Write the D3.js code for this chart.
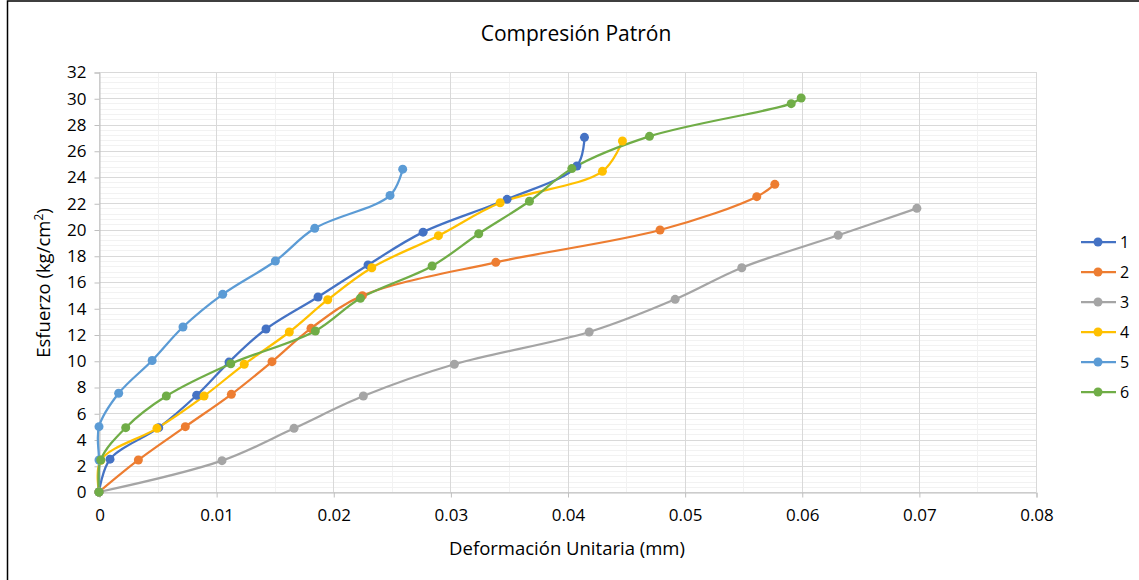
<!DOCTYPE html>
<html>
<head>
<meta charset="utf-8">
<script src="https://cdnjs.cloudflare.com/ajax/libs/d3/7.8.5/d3.min.js"></script>
<style>
  html, body { margin: 0; padding: 0; background: #fff; }
  svg { display: block; font-family: "Open Sans", "Noto Sans", sans-serif; }
</style>
</head>
<body>
<svg id="chart" width="1139" height="580"></svg>
<script>
// Ensayo de compresión: deformación unitaria (x) vs esfuerzo kg/cm² (y), seis probetas
const seriesNames = ["1", "2", "3", "4", "5", "6"];
const seriesColors = ["#4472C4", "#ED7D31", "#A5A5A5", "#FFC000", "#5B9BD5", "#70AD47"];

const strain1 = [0, 0.00094, 0.0051, 0.00834, 0.0111, 0.01426, 0.0187, 0.02297, 0.02767, 0.03484, 0.0408, 0.04145];
const stress1 = [0, 2.5, 4.9, 7.37, 9.9, 12.42, 14.86, 17.3, 19.8, 22.3, 24.84, 27.02];

const strain2 = [0, 0.00336, 0.00737, 0.0113, 0.01477, 0.0181, 0.02249, 0.03388, 0.0479, 0.05616, 0.0577];
const stress2 = [0, 2.44, 4.98, 7.44, 9.93, 12.47, 14.96, 17.5, 19.96, 22.5, 23.44];

const strain3 = [0, 0.0105, 0.01665, 0.02257, 0.03034, 0.04185, 0.04919, 0.05488, 0.06311, 0.06983];
const stress3 = [0, 2.39, 4.85, 7.31, 9.73, 12.19, 14.68, 17.09, 19.56, 21.61];

const strain4 = [0, 0.00015, 0.00495, 0.00897, 0.0124, 0.01625, 0.01953, 0.02329, 0.02898, 0.03425, 0.04298, 0.04469];
const stress4 = [0, 2.42, 4.85, 7.31, 9.73, 12.19, 14.65, 17.09, 19.53, 22.04, 24.43, 26.74];

const strain5 = [0, 0, 0, 0.00168, 0.00454, 0.00717, 0.01056, 0.01506, 0.01842, 0.02485, 0.02593];
const stress5 = [0, 2.44, 4.98, 7.52, 10.02, 12.57, 15.06, 17.6, 20.09, 22.6, 24.6];

const strain6 = [0, 0.00015, 0.00228, 0.00575, 0.01125, 0.01847, 0.02232, 0.02844, 0.03242, 0.03675, 0.04037, 0.047, 0.0591, 0.05995];
const stress6 = [0, 2.44, 4.9, 7.31, 9.77, 12.27, 14.76, 17.22, 19.68, 22.15, 24.64, 27.1, 29.59, 30.02];

const xTicks = [0, 0.01, 0.02, 0.03, 0.04, 0.05, 0.06, 0.07, 0.08];
const yTicks = [0, 2, 4, 6, 8, 10, 12, 14, 16, 18, 20, 22, 24, 26, 28, 30, 32];

const strains = [strain1, strain2, strain3, strain4, strain5, strain6];
const stresses = [stress1, stress2, stress3, stress4, stress5, stress6];
const series = seriesNames.map((name, i) => ({
  name,
  color: seriesColors[i],
  points: strains[i].map((x, j) => [x, stresses[i][j]])
}));

const svg = d3.select("#chart");
const W = 1139, H = 580;

svg.append("rect").attr("width", W).attr("height", H).attr("fill", "#fff");
// chart frame (top and left edges visible)
svg.append("rect")
  .attr("x", 7.5).attr("y", 1)
  .attr("width", W + 20).attr("height", H + 20)
  .attr("fill", "none").attr("stroke", "#000").attr("stroke-width", 1.5);

const plot = { left: 99, right: 1036, top: 72, bottom: 492 };
const x = d3.scaleLinear().domain([0, 0.08]).range([plot.left, plot.right]);
const y = d3.scaleLinear().domain([0, 32]).range([plot.bottom, plot.top]);

const g = svg.append("g");

// minor gridlines
const xMinor = d3.range(0, 0.0801, 0.005).filter(v => Math.abs(v / 0.01 - Math.round(v / 0.01)) > 1e-6);
const yMinor = d3.range(0, 32.001, 0.4).filter(v => Math.abs(v / 2 - Math.round(v / 2)) > 1e-6);
g.selectAll(".ymin").data(yMinor).enter().append("line")
  .attr("x1", plot.left).attr("x2", plot.right)
  .attr("y1", d => Math.round(y(d)) + 0.5).attr("y2", d => Math.round(y(d)) + 0.5)
  .attr("stroke", "#f2f2f2").attr("stroke-width", 1);
g.selectAll(".xmin").data(xMinor).enter().append("line")
  .attr("y1", plot.top).attr("y2", plot.bottom)
  .attr("x1", d => Math.round(x(d)) + 0.5).attr("x2", d => Math.round(x(d)) + 0.5)
  .attr("stroke", "#f2f2f2").attr("stroke-width", 1);

// major gridlines
g.selectAll(".ymaj").data(yTicks).enter().append("line")
  .attr("x1", plot.left).attr("x2", plot.right)
  .attr("y1", d => Math.round(y(d)) + 0.5).attr("y2", d => Math.round(y(d)) + 0.5)
  .attr("stroke", "#d9d9d9").attr("stroke-width", 1);
g.selectAll(".xmaj").data(xTicks).enter().append("line")
  .attr("y1", plot.top).attr("y2", plot.bottom)
  .attr("x1", d => Math.round(x(d)) + 0.5).attr("x2", d => Math.round(x(d)) + 0.5)
  .attr("stroke", "#d9d9d9").attr("stroke-width", 1);

// axes
const xAxis = d3.axisBottom(x).tickValues(xTicks).tickSize(5).tickPadding(10)
  .tickFormat(d => d === 0 ? "0" : d3.format(".2f")(d));
const yAxis = d3.axisLeft(y).tickValues(yTicks).tickSize(5).tickPadding(8)
  .tickFormat(d3.format("d"));

const xg = svg.append("g").attr("transform", `translate(0.5,${plot.bottom + 0.5})`).call(xAxis);
const yg = svg.append("g").attr("transform", `translate(${plot.left + 0.5},0.5)`).call(yAxis);
[xg, yg].forEach(a => {
  a.select(".domain").attr("stroke", "#bfbfbf");
  a.selectAll(".tick line").attr("stroke", "#bfbfbf");
  a.selectAll(".tick text").attr("fill", "#000").attr("font-size", 17)
    .attr("font-family", "'Open Sans', sans-serif");
});
xg.selectAll(".tick text").attr("dy", "0.8em");

// series curves and markers
const line = d3.line()
  .x(d => x(d[0])).y(d => y(d[1]))
  .curve(d3.curveCatmullRom.alpha(0.5));

const sg = svg.append("g");
series.forEach(s => {
  sg.append("path")
    .attr("d", line(s.points))
    .attr("fill", "none").attr("stroke", s.color)
    .attr("stroke-width", 2.25).attr("stroke-linejoin", "round");
});
series.forEach(s => {
  sg.selectAll(null).data(s.points).enter().append("circle")
    .attr("cx", d => x(d[0])).attr("cy", d => y(d[1]))
    .attr("r", 4.5).attr("fill", s.color);
});

// titles
svg.append("text").attr("x", 576).attr("y", 41)
  .attr("text-anchor", "middle").attr("font-size", 21).attr("fill", "#000")
  .text("Compresión Patrón");
svg.append("text").attr("x", 567).attr("y", 555)
  .attr("text-anchor", "middle").attr("font-size", 18.5).attr("fill", "#000")
  .text("Deformación Unitaria (mm)");
const yl = svg.append("text")
  .attr("transform", `translate(50,283) rotate(-90)`)
  .attr("text-anchor", "middle").attr("font-size", 18.5).attr("fill", "#000");
yl.append("tspan").text("Esfuerzo (kg/cm");
yl.append("tspan").attr("font-size", 12).attr("dy", -7).text("2");
yl.append("tspan").attr("dy", 7).text(")");

// legend
const lg = svg.append("g");
series.forEach((s, i) => {
  const ly = 242 + i * 30;
  lg.append("line").attr("x1", 1081).attr("x2", 1116).attr("y1", ly).attr("y2", ly)
    .attr("stroke", s.color).attr("stroke-width", 2.25);
  lg.append("circle").attr("cx", 1098).attr("cy", ly).attr("r", 4.5).attr("fill", s.color);
  lg.append("text").attr("x", 1120).attr("y", ly + 6).attr("font-size", 16)
    .attr("fill", "#000").text(s.name);
});
</script>
</body>
</html>
